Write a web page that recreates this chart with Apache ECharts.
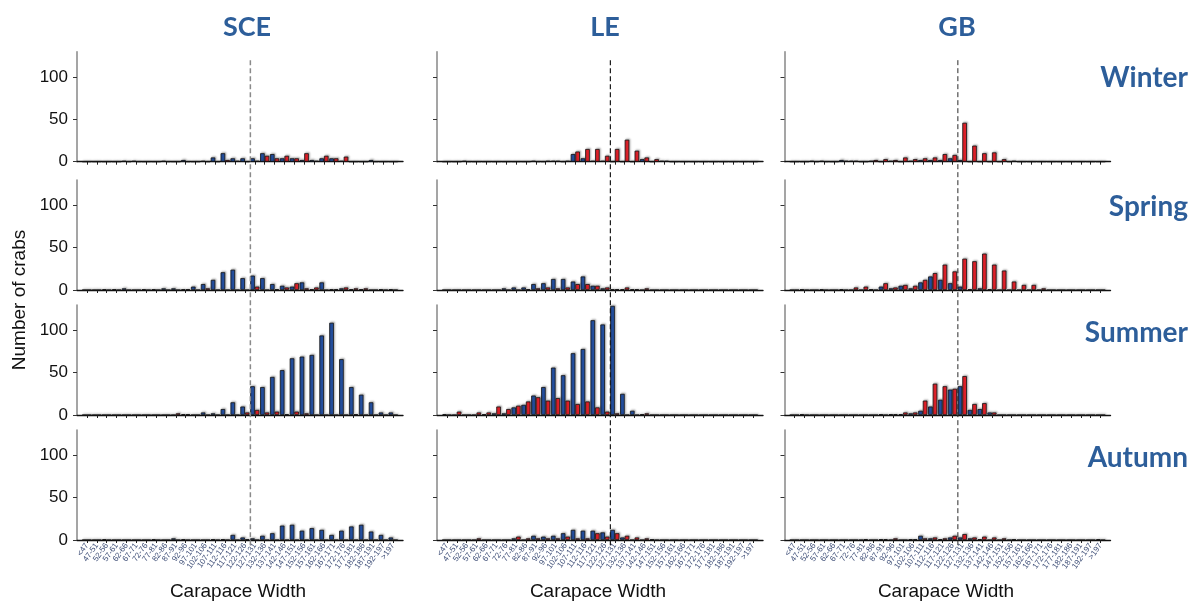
<!DOCTYPE html>
<html><head><meta charset="utf-8">
<script src="https://cdn.jsdelivr.net/npm/echarts@6/dist/echarts.min.js"></script>
<style>html,body{margin:0;padding:0;background:#fff}#c{width:1197px;height:604px}</style>
</head><body><div id="c"></div>
<script>
const categories = ['<47','47-51','52-56','57-61','62-66','67-71','72-76','77-81','82-86','87-91','92-96','97-101','102-106','107-111','112-116','117-121','122-126','127-131','132-136','137-141','142-146','147-151','152-156','157-161','162-166','167-171','172-176','177-181','182-186','187-191','192-197','>197'];
const sites = ['SCE','LE','GB'];
const seasons = ['Winter','Spring','Summer','Autumn'];
const yTicks = [0, 50, 100];

// values per size class (blue / red series)
const sceWinterBlue = [0,0,0,0,1,1,0,0,1,0,2,0,1,5,10,4,4,4,10,9,4,4,2,2,4,4,1,0,0,2,0,0];
const sceWinterRed  = [0,0,0,0,0,0,0,0,0,0,0,0,0,0,2,1,0,1,7,4,7,4,10,1,7,4,6,0,0,0,0,0];
const sceSpringBlue = [0,0,1,1,2,0,1,1,2,2,1,4,7,12,21,24,14,17,14,7,5,4,9,1,9,1,2,1,1,0,1,1];
const sceSpringRed  = [0,0,0,0,0,0,0,0,0,0,1,0,2,0,0,0,0,4,0,1,3,8,2,3,0,1,3,2,2,0,0,0];
const sceSummerBlue = [0,0,0,0,0,0,0,0,0,0,1,0,3,2,7,15,10,34,33,45,53,67,69,71,94,109,66,33,24,15,3,3];
const sceSummerRed  = [0,0,0,0,0,0,0,0,0,2,1,0,0,0,0,0,3,6,3,4,1,4,2,0,0,0,0,1,0,0,0,0];
const sceAutumnBlue = [0,0,1,0,0,0,0,1,0,2,1,0,0,1,1,6,3,2,5,8,17,18,11,14,12,6,11,16,18,10,6,3];
const sceAutumnRed  = [0,0,0,0,0,0,0,0,0,0,0,0,0,0,0,0,1,0,0,0,0,0,0,0,0,0,0,0,0,0,0,0];

const leWinterBlue = [0,0,1,0,0,0,0,0,0,1,0,1,0,9,4,1,1,0,0,0,3,0,1,0,0,0,0,0,0,0,0,0];
const leWinterRed  = [0,0,0,0,0,0,0,0,0,0,1,1,1,12,15,15,7,15,26,13,5,3,1,0,0,0,0,0,0,0,0,0];
const leSpringBlue = [0,0,0,0,0,0,2,3,3,7,8,13,13,10,16,5,2,1,1,1,0,0,0,0,0,0,0,0,0,0,0,0];
const leSpringRed  = [0,0,0,0,0,0,0,0,1,2,3,2,3,7,7,5,3,1,3,1,2,0,0,0,0,0,0,0,0,0,0,0];
const leSummerBlue = [1,0,0,0,1,2,2,9,12,23,33,56,47,73,78,112,107,129,25,5,1,0,0,0,0,0,0,0,0,0,0,0];
const leSummerRed  = [0,4,0,3,3,10,7,11,16,21,17,20,17,13,16,9,4,2,0,0,2,0,0,0,0,0,0,0,0,0,0,0];
const leAutumnBlue = [0,0,0,0,0,0,0,2,0,5,4,5,8,12,11,11,9,12,3,0,0,1,0,0,0,0,0,0,0,0,0,0];
const leAutumnRed  = [0,0,0,2,0,0,0,4,2,2,2,2,4,2,2,8,4,8,5,3,2,0,0,0,0,0,0,0,0,0,0,0];

const gbWinterBlue = [0,0,1,1,0,2,1,0,1,0,1,0,1,2,2,2,4,2,0,0,0,0,0,0,0,0,0,0,0,0,0,0];
const gbWinterRed  = [0,0,0,0,0,1,1,0,2,3,2,5,3,4,5,9,8,46,19,10,11,3,1,0,0,0,0,0,0,0,0,0];
const gbSpringBlue = [0,1,0,1,0,1,0,0,1,4,2,5,2,9,16,12,8,4,1,2,1,0,0,0,0,0,0,0,0,0,0,0];
const gbSpringRed  = [0,0,0,0,0,0,3,4,0,8,3,6,5,12,20,30,22,37,34,43,30,23,10,6,6,2,0,0,0,0,0,0];
const gbSummerBlue = [0,1,0,0,0,0,0,0,0,1,1,1,2,5,10,18,30,34,6,7,3,0,0,0,0,0,0,0,0,0,0,0];
const gbSummerRed  = [0,0,0,0,0,0,0,0,0,0,1,3,3,17,37,34,31,46,13,14,3,0,0,0,0,0,0,0,0,0,0,0];
const gbAutumnBlue = [0,0,0,0,0,0,0,0,0,1,0,0,1,5,2,1,3,3,2,1,0,0,0,0,0,0,0,0,0,0,0,1];
const gbAutumnRed  = [0,0,0,0,0,0,0,1,0,1,2,0,1,2,3,2,5,7,3,4,3,2,1,0,0,0,0,0,0,0,0,0];

const panels = [
  [sceWinterBlue, sceWinterRed], [leWinterBlue, leWinterRed], [gbWinterBlue, gbWinterRed],
  [sceSpringBlue, sceSpringRed], [leSpringBlue, leSpringRed], [gbSpringBlue, gbSpringRed],
  [sceSummerBlue, sceSummerRed], [leSummerBlue, leSummerRed], [gbSummerBlue, gbSummerRed],
  [sceAutumnBlue, sceAutumnRed], [leAutumnBlue, leAutumnRed], [gbAutumnBlue, gbAutumnRed]
];

// layout
const colLeft = [77, 437, 784.5];
const colWidth = 326;
const rowTop = [51.7, 180, 305, 430];
const rowHeight = 110;

const padded = [''].concat(categories, ['']);
const pad = arr => [null].concat(arr, [null]);
const inner = (i) => i > 0 && i < padded.length - 1;

const grid = [], xAxis = [], yAxis = [], series = [];
for (let r = 0; r < 4; r++) {
  for (let c = 0; c < 3; c++) {
    const g = r * 3 + c;
    grid.push({left: colLeft[c], top: rowTop[r], width: colWidth, height: rowHeight, containLabel: false});
    xAxis.push({
      type: 'category', gridIndex: g, data: padded, boundaryGap: false,
      axisLine: {onZero: false, lineStyle: {color: '#111', width: 1.4}},
      axisTick: {show: true, length: 3, interval: inner, lineStyle: {color: '#222', width: 1}},
      axisLabel: {show: r === 3, interval: inner, rotate: 55, fontSize: 8, color: '#3f4f78', margin: 4, fontFamily: 'Liberation Sans'},
      splitLine: {show: false}
    });
    yAxis.push({
      type: 'value', gridIndex: g, min: 0, max: 130, interval: 50,
      axisLine: {show: true, lineStyle: {color: '#8f8f8f', width: 1.6}},
      axisTick: {show: true, length: 4, customValues: yTicks, lineStyle: {color: '#333'}},
      axisLabel: {show: c === 0, customValues: yTicks, fontSize: 17, color: '#111', margin: 9, fontFamily: 'Liberation Sans'},
      splitLine: {show: false}
    });
    const [blue, red] = panels[g];
    const common = {type: 'bar', xAxisIndex: g, yAxisIndex: g, barWidth: 4.6, barGap: '0%', silent: true};
    series.push(Object.assign({}, common, {name: 'blue', data: pad(blue),
      itemStyle: {color: '#2552a5', borderColor: '#141414', borderWidth: 0.8, shadowColor: 'rgba(0,0,0,0.3)', shadowBlur: 2, shadowOffsetX: 1, shadowOffsetY: -1}}));
    series.push(Object.assign({}, common, {name: 'red', data: pad(red),
      itemStyle: {color: '#e8222b', borderColor: '#141414', borderWidth: 0.8, shadowColor: 'rgba(0,0,0,0.3)', shadowBlur: 2, shadowOffsetX: 1, shadowOffsetY: -1}}));
  }
}

const chart = echarts.init(document.getElementById('c'), null, {renderer: 'canvas'});
chart.setOption({animation: false, backgroundColor: '#fff', grid, xAxis, yAxis, series});

const titleFont = 'bold 27px Lato, "Open Sans", sans-serif';
const blueText = '#2d5e9a';
const graphics = [];
const titleX = [247, 605, 957];
sites.forEach((s, i) => graphics.push({type: 'text', x: titleX[i], y: 27,
  style: {text: s, font: titleFont, fill: blueText, align: 'center', verticalAlign: 'middle'}}));
const seasonY = [78, 207, 333, 458];
seasons.forEach((s, i) => graphics.push({type: 'text', x: 1188, y: seasonY[i],
  style: {text: s, font: 'bold 28px Lato, "Open Sans", sans-serif', fill: blueText, align: 'right', verticalAlign: 'middle'}}));
graphics.push({type: 'text', x: 20, y: 300, rotation: Math.PI / 2,
  style: {text: 'Number of crabs', font: '19px "Liberation Sans", Arial, sans-serif', fill: '#111', align: 'center', verticalAlign: 'middle'}});
const cwX = [238, 598, 946];
cwX.forEach(x => graphics.push({type: 'text', x: x, y: 592,
  style: {text: 'Carapace Width', font: '19px "Liberation Sans", Arial, sans-serif', fill: '#111', align: 'center', verticalAlign: 'middle'}}));

const dashStyles = [
  {stroke: '#8a8a8a', lineWidth: 1.5, lineDash: [5, 3]},
  {stroke: '#1a1a1a', lineWidth: 1.2, lineDash: [5, 3]},
  {stroke: '#2a2a2a', lineWidth: 1.0, lineDash: [5, 3]}
];
for (let c = 0; c < 3; c++) {
  const xa = chart.convertToPixel({xAxisIndex: c}, 17);
  const xb = chart.convertToPixel({xAxisIndex: c}, 18);
  const x = xa + 0.55 * (xb - xa);
  const yTop = chart.convertToPixel({yAxisIndex: c}, 120);
  const yBot = chart.convertToPixel({yAxisIndex: 9 + c}, 0) + 8;
  graphics.push({type: 'line', z: 100, shape: {x1: x, y1: yTop, x2: x, y2: yBot}, style: dashStyles[c], silent: true});
}
chart.setOption({graphic: graphics});
</script></body></html>
